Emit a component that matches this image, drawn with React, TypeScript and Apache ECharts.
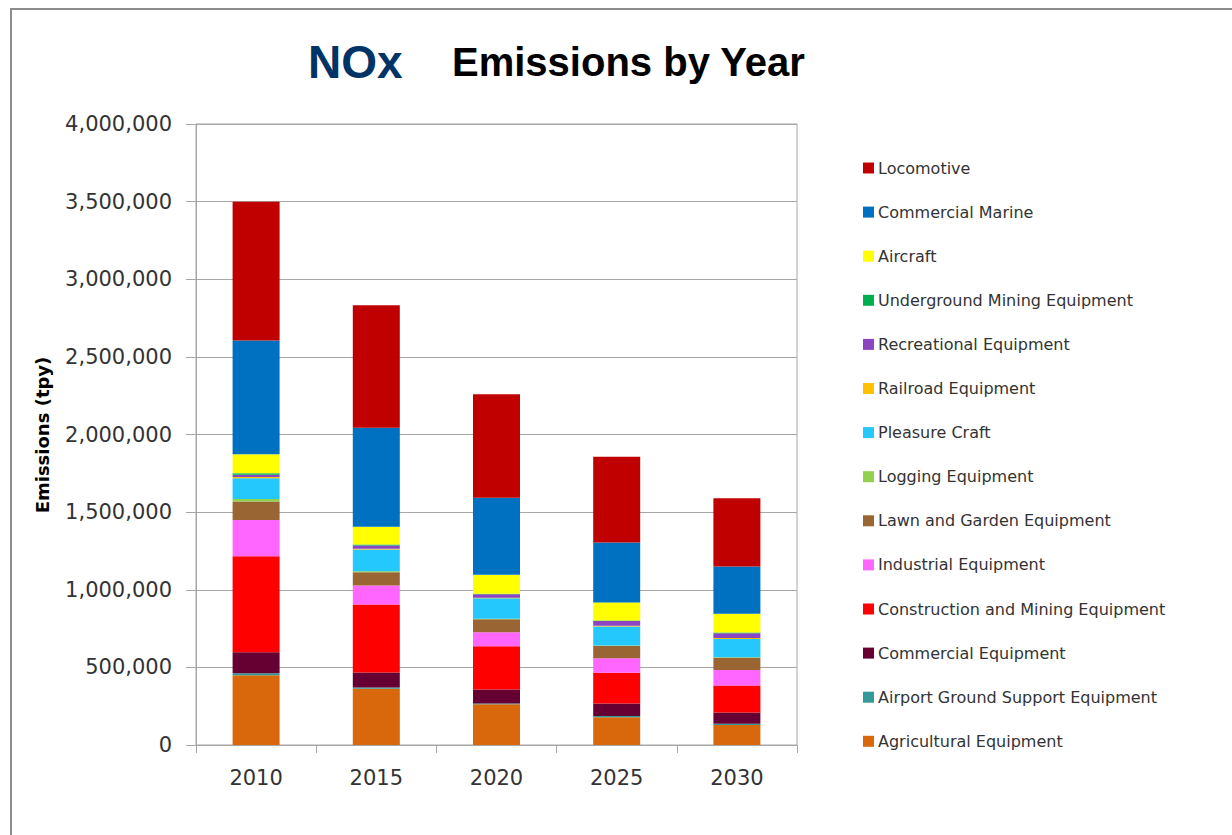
import React, { useEffect, useRef } from "react";
import * as echarts from "echarts";

const years = ["2010", "2015", "2020", "2025", "2030"];

const seriesNames = [
  "Agricultural Equipment",
  "Airport Ground Support Equipment",
  "Commercial Equipment",
  "Construction and Mining Equipment",
  "Industrial Equipment",
  "Lawn and Garden Equipment",
  "Logging Equipment",
  "Pleasure Craft",
  "Railroad Equipment",
  "Recreational Equipment",
  "Underground Mining Equipment",
  "Aircraft",
  "Commercial Marine",
  "Locomotive",
];

const agricultural = [450000, 363000, 262000, 178000, 129000];
const airportGSE = [12000, 7000, 5000, 8000, 8000];
const commercialEquip = [135000, 97000, 90000, 82000, 73000];
const construction = [618000, 438000, 279000, 198000, 174000];
const industrial = [234000, 122000, 90000, 92000, 99000];
const lawnGarden = [120000, 86000, 84000, 79000, 79000];
const logging = [15000, 6000, 4000, 4000, 4000];
const pleasureCraft = [135000, 140000, 131000, 122000, 116000];
const railroad = [8000, 5000, 4000, 5000, 8000];
const recreational = [13000, 21000, 22000, 30000, 30000];
const undergroundMining = [10000, 6000, 3000, 4000, 4000];
const aircraft = [122000, 114000, 122000, 116000, 122000];
const commercialMarine = [734000, 638000, 496000, 386000, 303000];
const locomotive = [893000, 790000, 667000, 553000, 441000];

const seriesValues = [
  agricultural,
  airportGSE,
  commercialEquip,
  construction,
  industrial,
  lawnGarden,
  logging,
  pleasureCraft,
  railroad,
  recreational,
  undergroundMining,
  aircraft,
  commercialMarine,
  locomotive,
];

const colors = [
  "#D9670B",
  "#339999",
  "#660033",
  "#FF0000",
  "#FF66FF",
  "#996633",
  "#92D050",
  "#24C8FC",
  "#FFC000",
  "#8B45C2",
  "#00B050",
  "#FFFF00",
  "#0070C0",
  "#C00000",
];

export default function App() {
  const ref = useRef<HTMLDivElement>(null);

  useEffect(() => {
    if (!ref.current) return;
    const chart = echarts.init(ref.current, undefined, { renderer: "svg" });
    const fmt = (v: number) =>
      String(Math.round(v)).replace(/\B(?=(\d{3})+(?!\d))/g, ",");

    chart.setOption({
      animation: false,
      backgroundColor: "#ffffff",
      color: colors,
      grid: {
        left: 196,
        right: 435,
        top: 124,
        bottom: 90,
        show: true,
        borderColor: "#A6A6A6",
        borderWidth: 1,
      },
      legend: {
        orient: "vertical",
        left: 858,
        top: 155,
        itemWidth: 11,
        itemHeight: 11,
        itemGap: 28.1,
        icon: "rect",
        selectedMode: false,
        data: [...seriesNames].reverse(),
        textStyle: {
          fontFamily: "DejaVu Sans",
          fontSize: 16,
          lineHeight: 16,
          color: "#333333",
          padding: [0, 0, 0, -1],
        },
      },
      xAxis: {
        type: "category",
        data: years,
        axisLine: { lineStyle: { color: "#A6A6A6", width: 1 } },
        axisTick: {
          show: true,
          inside: false,
          length: 8,
          lineStyle: { color: "#A6A6A6" },
        },
        axisLabel: {
          fontFamily: "DejaVu Sans",
          fontSize: 21,
          color: "#333333",
          margin: 22,
        },
      },
      yAxis: {
        type: "value",
        min: 0,
        max: 4000000,
        interval: 500000,
        axisLine: { show: true, lineStyle: { color: "#A6A6A6", width: 1 } },
        axisTick: {
          show: true,
          inside: false,
          length: 10,
          lineStyle: { color: "#A6A6A6" },
        },
        splitLine: { lineStyle: { color: "#A6A6A6", width: 1 } },
        axisLabel: {
          fontFamily: "DejaVu Sans",
          fontSize: 21,
          color: "#333333",
          margin: 24,
          formatter: (v: number) => fmt(v),
        },
      },
      graphic: [
        {
          type: "rect",
          shape: { x: 11, y: 9, width: 1400, height: 1000 },
          style: { fill: "none", stroke: "#8C8C8C", lineWidth: 2 },
          silent: true,
        },
        {
          type: "text",
          x: 308,
          y: 62,
          style: {
            text: "NOx",
            fontFamily: "Liberation Sans",
            fontWeight: "bold",
            fontSize: 46,
            fill: "#003366",
            verticalAlign: "middle",
          },
        },
        {
          type: "text",
          x: 452,
          y: 62,
          style: {
            text: "Emissions by Year",
            fontFamily: "Liberation Sans",
            fontWeight: "bold",
            fontSize: 40,
            fill: "#000000",
            verticalAlign: "middle",
          },
        },
        {
          type: "text",
          x: 42,
          y: 435,
          rotation: Math.PI / 2,
          style: {
            text: "Emissions (tpy)",
            fontFamily: "DejaVu Sans",
            fontWeight: "bold",
            fontSize: 18,
            fill: "#000000",
            align: "center",
            verticalAlign: "middle",
          },
        },
      ],
      series: seriesNames.map((name, i) => ({
        name,
        type: "bar",
        stack: "total",
        barWidth: 47,
        data: seriesValues[i],
        itemStyle: { color: colors[i] },
      })),
    });

    return () => {
      chart.dispose();
    };
  }, []);

  return (
    <div
      ref={ref}
      style={{
        position: "fixed",
        left: 0,
        top: 0,
        width: 1232,
        height: 835,
      }}
    />
  );
}
